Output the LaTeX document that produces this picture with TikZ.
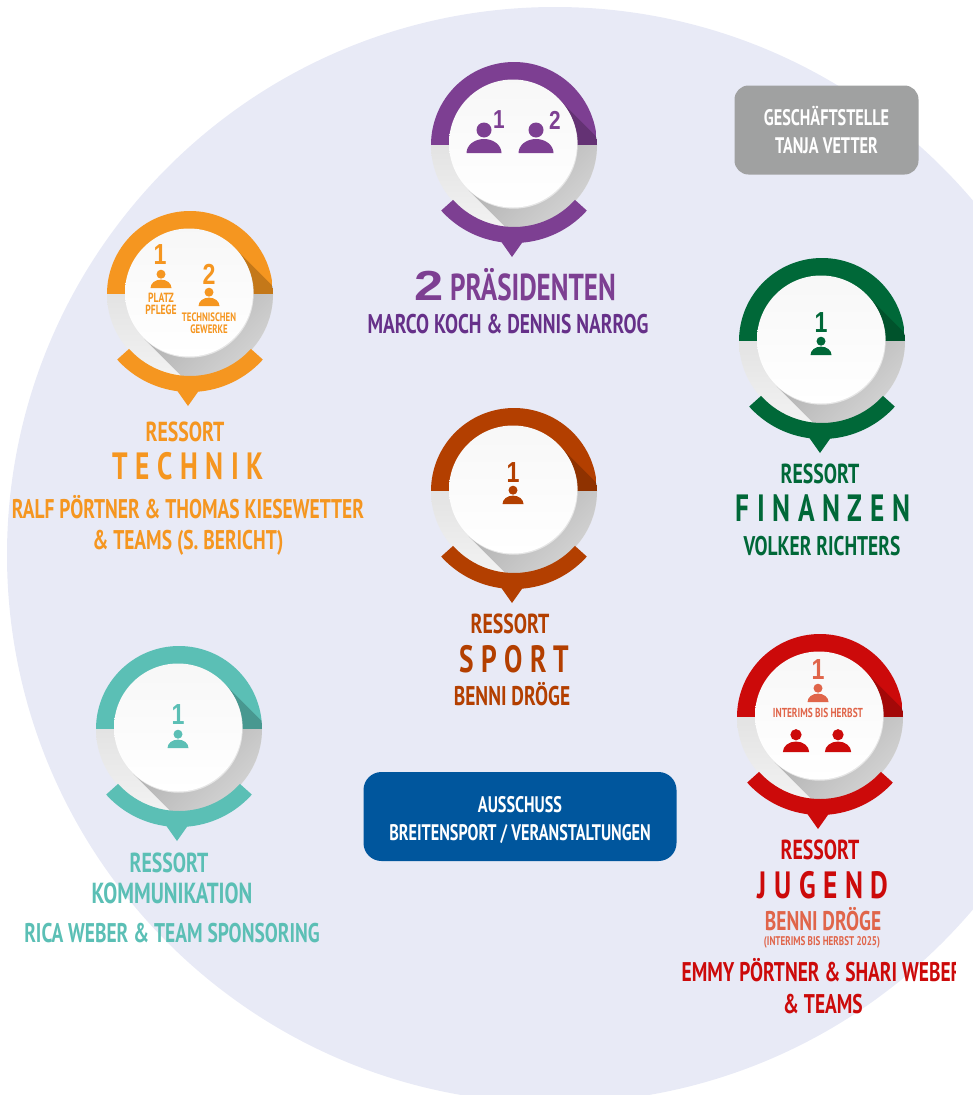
\documentclass[tikz,border=0pt]{standalone}
\usepackage{fontspec}
\setmainfont[FakeStretch=0.72]{PT Sans}
\newfontfamily\numfont[FakeStretch=0.8]{Liberation Sans}
\newfontfamily\bignumfont[FakeStretch=1.25]{Liberation Sans}
\usetikzlibrary{calc}

\definecolor{bgblue}{HTML}{E8EAF6}
\definecolor{purplec}{HTML}{7D3F92}
\definecolor{purpled}{HTML}{663089}
\definecolor{orangec}{HTML}{F59620}
\definecolor{greenc}{HTML}{006838}
\definecolor{sportc}{HTML}{B33F00}
\definecolor{tealc}{HTML}{5BBFB5}
\definecolor{redc}{HTML}{CC0A0A}
\definecolor{salmonc}{HTML}{E0654A}
\definecolor{bluec}{HTML}{00569D}
\definecolor{greyc}{HTML}{A0A1A1}

\tikzset{
	lab/.style 2 args={inner sep=0pt, text=#1, align=center, font=\fontsize{#2}{#2}\selectfont\bfseries},
	wide/.style 2 args={inner sep=0pt, text=#1, font=\fontsize{#2}{#2}\selectfont\bfseries\addfontfeature{LetterSpace=20}},
	num/.style 2 args={inner sep=0pt, text=#1, font=\fontsize{#2}{#2}\numfont\bfseries},
}

\def\badge(#1,#2)#3{
	\begin{scope}[shift={(#1,#2)}]
		\begin{scope}
			\clip (0, 0) circle (83);
			\fill[#3] (-83, 0) rectangle (83, 83);
			\shade[top color=black!11, bottom color=black!5] (-83, 0) rectangle (83, -83);
			\fill[black, opacity=0.2] (45:64) -- ($(45:64)+(110,-110)$) -- (110, 0) -- (64, 0) -- cycle;
			\clip (-83, 0) rectangle (83, -83);
			\shade[shading=axis, top color=black!34, bottom color=black!4, shading angle=45] (45:64) -- ($(45:64)+(110,-110)$) -- ($(225:64)+(110,-110)$) -- (225:64) -- cycle;
		\end{scope}
		\fill[#3] (-138:82) arc (-138:-42:82) -- (-42:98) arc (-42:-138:98) -- cycle;
		\fill[#3] (-14, -95) -- (-2, -112) -- (10, -95) -- cycle;
		\fill[black!10] (-0.3, 0.3) circle (64);
		\shade[top color=black!3, bottom color=white] (-1, 1.5) circle (64);
	\end{scope}
}
\def\person(#1,#2)#3#4{
	\begin{scope}[shift={(#1,#2)}, scale=#3]
		\fill[#4] (0, 23) circle (7.5);
		\fill[#4] (-17.5, 0) arc (180:0:17.5 and 14) -- cycle;
	\end{scope}
}

\begin{document}
\begin{tikzpicture}[x=1pt, y=1pt]
	\useasboundingbox (0, -1095) rectangle (973, 0);
	\begin{scope}
		\clip (0, -1095) rectangle (973, 0);
		\fill[bgblue] (555, -555) circle (548);
	\end{scope}

	% praesidenten
	\badge(514,-145){purplec}
	\person(484,-153){1}{purplec}
	\person(536,-153){1}{purplec}
	\node[num={purplec}{26}] (num1) at (499, -120) {1};
	\node[num={purplec}{26}] (num2) at (555, -120) {2};
	\node[lab={purplec}{37.5}, anchor=west] (praes) at (414, -285) {{\fontsize{42}{42}\bignumfont 2} PRÄSIDENTEN};
	\node[lab={purpled}{27}] (praesnames) at (508, -324) {MARCO KOCH \& DENNIS NARROG};

	% geschaeftsstelle
	\node[fill=greyc, rounded corners=14, minimum width=184, minimum height=89, lab={white}{22.5}] (office) at (826.5, -130) {GESCHÄFTSTELLE\\[5.5pt]TANJA VETTER};

	% technik
	\badge(190,-294){orangec}
	\person(161,-288){0.6}{orangec}
	\person(209,-306){0.6}{orangec}
	\node[num={orangec}{29}] (tnum1) at (160, -255) {1};
	\node[num={orangec}{29}] (tnum2) at (209, -274) {2};
	\node[lab={orangec}{13.3}] (tplatz) at (161, -298) {PLATZ};
	\node[lab={orangec}{13.3}] (tpflege) at (161, -310) {PFLEGE};
	\node[lab={orangec}{12.2}] (ttechn) at (209, -317) {TECHNISCHEN};
	\node[lab={orangec}{12.2}] (tgew) at (209, -329) {GEWERKE};
	\node[lab={orangec}{27.5}] (tress) at (185, -432) {RESSORT};
	\node[wide={orangec}{38}] (ttitle) at (188, -466) {TECHNIK};
	\node[lab={orangec}{27}] (tname) at (188, -507) {RALF PÖRTNER \& THOMAS KIESEWETTER};
	\node[lab={orangec}{27}] (tteams) at (188, -543) {\& TEAMS (S. BERICHT)};

	% finanzen
	\badge(822,-341){greenc}
	\person(821,-355){0.6}{greenc}
	\node[num={greenc}{29}] (fnum) at (821, -323) {1};
	\node[lab={greenc}{27.5}] (fress) at (820, -474) {RESSORT};
	\node[wide={greenc}{38}] (ftitle) at (823, -508) {FINANZEN};
	\node[lab={greenc}{27}] (fname) at (822, -546) {VOLKER RICHTERS};

	% sport
	\badge(514,-491){sportc}
	\person(513,-504){0.6}{sportc}
	\node[num={sportc}{29}] (snum) at (513, -473) {1};
	\node[lab={sportc}{27.5}] (sress) at (510, -624) {RESSORT};
	\node[wide={sportc}{38}] (stitle) at (514, -659) {SPORT};
	\node[lab={sportc}{27}] (sname) at (512, -694) {BENNI DRÖGE};

	% kommunikation
	\badge(179,-729){tealc}
	\person(178,-748){0.6}{tealc}
	\node[num={tealc}{29}] (knum) at (178, -715) {1};
	\node[lab={tealc}{27.5}] (kress) at (169, -863) {RESSORT};
	\node[lab={tealc}{29}] (ktitle) at (172, -893) {KOMMUNIKATION};
	\node[lab={tealc}{27}] (kname) at (172, -933) {RICA WEBER \& TEAM SPONSORING};

	% ausschuss
	\node[fill=bluec, rounded corners=18, minimum width=313, minimum height=89, lab={white}{22.5}] (committee) at (520, -816.5) {\rule{0pt}{23pt}AUSSCHUSS\\[5.5pt]BREITENSPORT / VERANSTALTUNGEN};

	% jugend
	\badge(820,-717){redc}
	\person(818,-702){0.6}{salmonc}
	\person(796,-752){0.75}{redc}
	\person(838,-752){0.75}{redc}
	\node[num={salmonc}{29}] (jnum) at (818, -670) {1};
	\node[lab={salmonc}{13}] (jint) at (818, -713) {INTERIMS BIS HERBST};
	\node[lab={redc}{27.5}] (jress) at (820, -850) {RESSORT};
	\node[wide={redc}{38}] (jtitle) at (823, -885) {JUGEND};
	\node[lab={salmonc}{27}] (jname) at (823, -919) {BENNI DRÖGE};
	\node[lab={salmonc}{12.6}] (jnote) at (822, -942.5) {(INTERIMS BIS HERBST 2025)};
	\begin{scope}
		\clip (600, -1095) rectangle (955, -950);
		\node[lab={redc}{27}] (jteam) at (822, -970) {EMMY PÖRTNER \& SHARI WEBER};
	\end{scope}
	\node[lab={redc}{27}] (jteams) at (823, -1004) {\& TEAMS};
\end{tikzpicture}
\end{document}
